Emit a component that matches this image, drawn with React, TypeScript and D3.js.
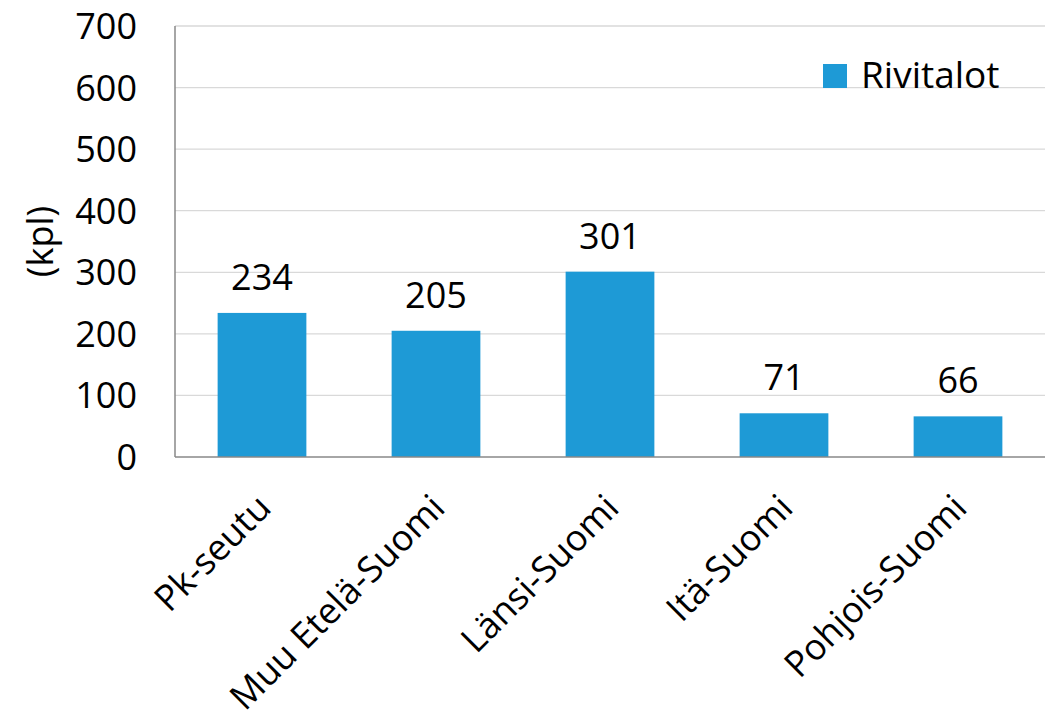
import React, { useEffect, useRef } from 'react'
import * as d3 from 'd3'

const regions: string[] = ['Pk-seutu', 'Muu Etelä-Suomi', 'Länsi-Suomi', 'Itä-Suomi', 'Pohjois-Suomi']
const rivitalot: number[] = [234, 205, 301, 71, 66]
const yTicks: number[] = [0, 100, 200, 300, 400, 500, 600, 700]
const seriesName = 'Rivitalot'

const W = 1050
const H = 721
const margin: any = { top: 26, bottom: 264, left: 175, right: 5 }
const FONT = "'Open Sans', sans-serif"
const BAR = '#1e9ad6'

export default function App() {
    const ref = useRef<SVGSVGElement | null>(null)

    useEffect(() => {
        const svg = d3.select(ref.current)
        svg.selectAll('*').remove()

        const x = d3.scaleBand<string>()
            .domain(regions)
            .range([margin.left, W - margin.right])
            .paddingInner(0.49)
            .paddingOuter(0.245)

        const y = d3.scaleLinear()
            .domain([0, 700])
            .range([H - margin.bottom, margin.top])

        // gridlines
        svg.append('g')
            .selectAll('line')
            .data(yTicks.filter(t => t > 0))
            .enter().append('line')
            .attr('x1', margin.left)
            .attr('x2', W - margin.right)
            .attr('y1', (d: number) => y(d))
            .attr('y2', (d: number) => y(d))
            .attr('stroke', '#d9d9d9')
            .attr('stroke-width', 1.3)

        // bars
        svg.append('g')
            .selectAll('rect')
            .data(rivitalot)
            .enter().append('rect')
            .attr('x', (_d: number, i: number) => x(regions[i])!)
            .attr('width', x.bandwidth())
            .attr('y', (d: number) => y(d))
            .attr('height', (d: number) => y(0) - y(d))
            .attr('fill', BAR)

        // value labels
        svg.append('g')
            .selectAll('text')
            .data(rivitalot)
            .enter().append('text')
            .attr('x', (_d: number, i: number) => x(regions[i])! + x.bandwidth() / 2)
            .attr('y', (d: number) => y(d) - 23)
            .attr('text-anchor', 'middle')
            .attr('font-family', FONT)
            .attr('font-size', 36)
            .attr('fill', '#000')
            .text((d: number) => d)

        // axes lines
        svg.append('line')
            .attr('x1', margin.left).attr('x2', margin.left)
            .attr('y1', y(700)).attr('y2', y(0))
            .attr('stroke', '#898989').attr('stroke-width', 1.5)
        svg.append('line')
            .attr('x1', margin.left).attr('x2', W - margin.right)
            .attr('y1', y(0)).attr('y2', y(0))
            .attr('stroke', '#898989').attr('stroke-width', 1.5)

        // y tick labels
        svg.append('g')
            .selectAll('text')
            .data(yTicks)
            .enter().append('text')
            .attr('x', 137)
            .attr('y', (d: number) => y(d))
            .attr('dy', '0.36em')
            .attr('text-anchor', 'end')
            .attr('font-family', FONT)
            .attr('font-size', 36)
            .text((d: number) => d)

        // x labels
        svg.append('g')
            .selectAll('text')
            .data(regions)
            .enter().append('text')
            .attr('transform', (d: string) => `translate(${x(d)! + x.bandwidth() / 2 + 11}, ${y(0) + 53}) rotate(-45)`)
            .attr('text-anchor', 'end')
            .attr('font-family', FONT)
            .attr('font-size', 36)
            .text((d: string) => d)

        // y title
        svg.append('text')
            .attr('transform', `translate(53, ${(y(0) + y(700)) / 2}) rotate(-90)`)
            .attr('text-anchor', 'middle')
            .attr('font-family', FONT)
            .attr('font-size', 36)
            .text('(kpl)')

        // legend
        svg.append('rect')
            .attr('x', 823).attr('y', 64)
            .attr('width', 24).attr('height', 24)
            .attr('fill', BAR)
        svg.append('text')
            .attr('x', 861).attr('y', 88)
            .attr('font-family', FONT)
            .attr('font-size', 37)
            .text(seriesName)
    }, [])

    return (
        <svg ref={ref} width={W} height={H}
            style={{ position: 'absolute', left: 0, top: 0, background: '#fff' }} />
    )
}
